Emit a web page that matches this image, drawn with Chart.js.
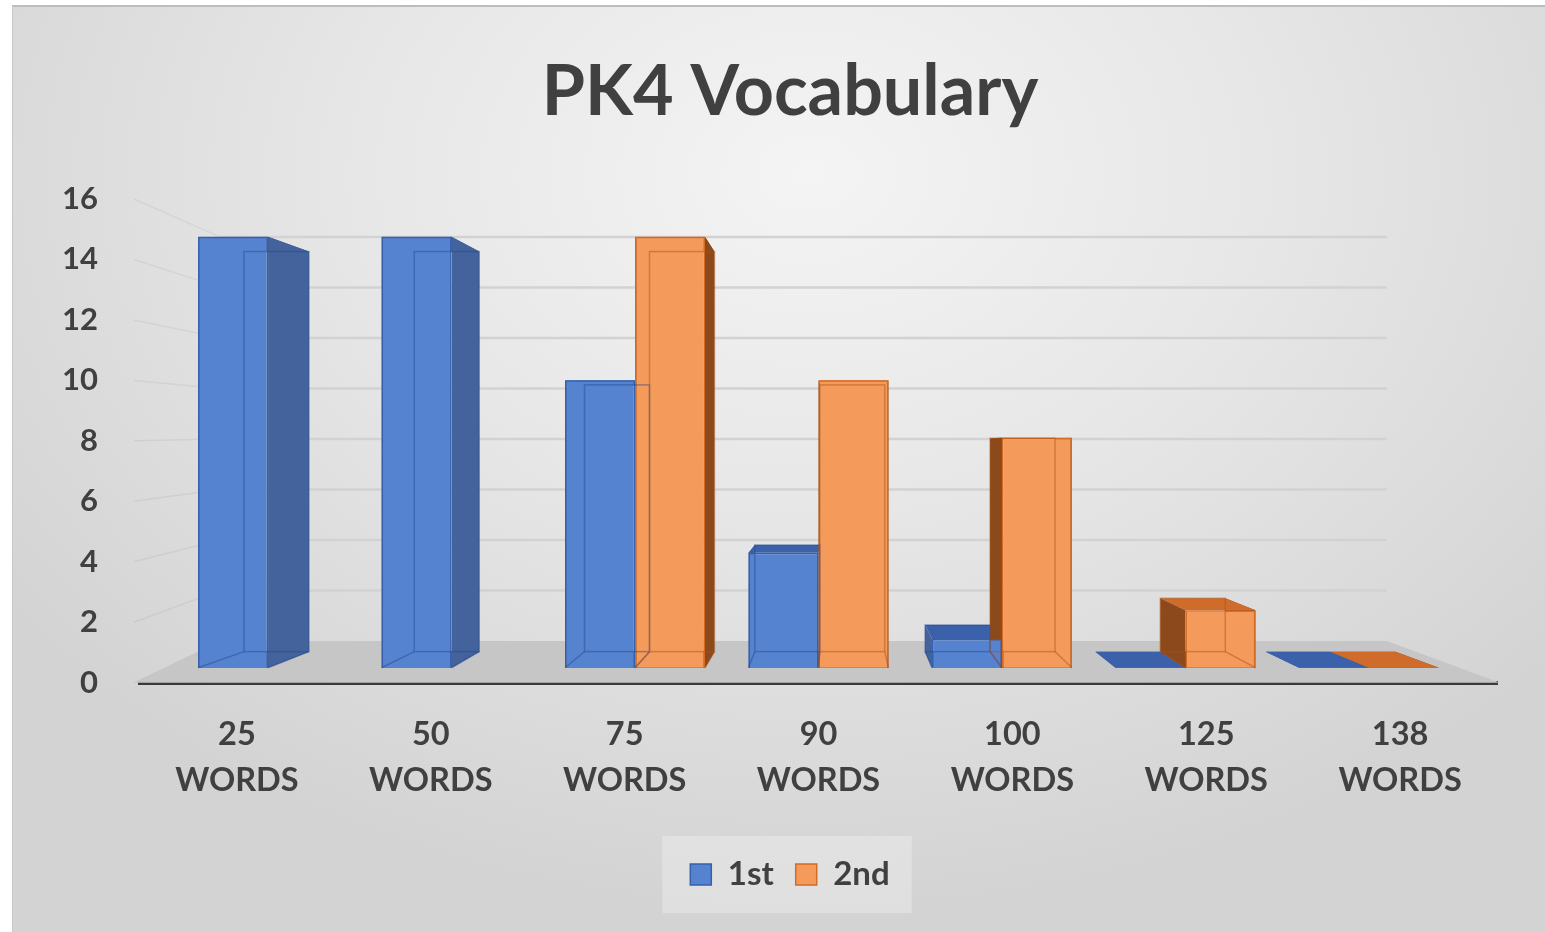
<!DOCTYPE html>
<html>
<head>
<meta charset="utf-8">
<script src="https://cdn.jsdelivr.net/npm/chart.js@4.4.0/dist/chart.umd.min.js"></script>
<style>
  html, body { margin: 0; padding: 0; background: #fff; }
  #frame {
    position: absolute; left: 12px; top: 5px; width: 1533px; height: 927px;
    background: radial-gradient(ellipse 65% 80% at 52% 18%, #f4f4f4 0%, #e7e7e7 45%, #d3d3d3 100%);
    border-top: 2px solid #bdbdbd; border-left: 1px solid #c9c9c9; box-sizing: border-box;
  }
  #wrap { position: absolute; left: 0; top: 0; width: 1545px; height: 932px; }
</style>
</head>
<body>
<div id="frame"></div>
<div id="wrap"><canvas id="myChart"></canvas></div>
<script>
const categories = [["25", "WORDS"], ["50", "WORDS"], ["75", "WORDS"], ["90", "WORDS"], ["100", "WORDS"], ["125", "WORDS"], ["138", "WORDS"]];
const firstScores = [15, 15, 10, 4, 1, 0, 0];
const secondScores = [null, null, 15, 10, 8, 2, 0];
const seriesLabels = ["1st", "2nd"];
const yTickValues = [0, 2, 4, 6, 8, 10, 12, 14, 16];

const ink = "#404040";
const FONT = "Lato, 'Open Sans', sans-serif";

// point the box sides run towards (share of chart area) and how far back they go
const vanish = { fx: 0.513, fy: 0.506, k: 0.928 };

const faceColors = [
  { side: "#44639c", top: "#3c61ab", edge: "rgba(35,70,140,0.45)" },
  { side: "#8c4a1c", top: "#d06c2b", edge: "rgba(170,80,25,0.45)" }
];

const toPoints = arr => arr.map((v, i) => ({ x: i, y: v }));

function quad(ctx, pts, fill) {
  ctx.beginPath();
  ctx.moveTo(pts[0][0], pts[0][1]);
  for (let i = 1; i < pts.length; i++) ctx.lineTo(pts[i][0], pts[i][1]);
  ctx.closePath();
  ctx.fillStyle = fill;
  ctx.fill();
}

function barBoxes(chart) {
  const a = chart.chartArea;
  const V = { x: a.left + vanish.fx * (a.right - a.left), y: a.top + vanish.fy * (a.bottom - a.top) };
  const bx = x => V.x + vanish.k * (x - V.x);
  const by = y => V.y + vanish.k * (y - V.y);
  let out = [];
  chart.data.datasets.forEach((ds, di) => {
    chart.getDatasetMeta(di).data.forEach((bar, i) => {
      if (ds.data[i].y == null) return;
      const p = bar.getProps(["x", "y", "base", "width"], true);
      const l = p.x - p.width / 2, r = p.x + p.width / 2;
      const t = Math.min(p.y, p.base), b = Math.max(p.y, p.base);
      out.push({ di, V, l, r, t, b, bl: bx(l), br: bx(r), bt: by(t), bb: by(b) });
    });
  });
  return out;
}

const scene = {
  id: "scene",
  beforeDraw(chart) {
    // soft panel behind the legend
    const hb = chart.legend && chart.legend.legendHitBoxes;
    if (!hb || !hb.length) return;
    const ctx = chart.ctx;
    const x0 = Math.min(...hb.map(h => h.left)) - 28;
    const x1 = Math.max(...hb.map(h => h.left + h.width)) + 22;
    const y0 = hb[0].top - 22, y1 = hb[0].top + hb[0].height + 22;
    ctx.save();
    ctx.fillStyle = "rgba(255,255,255,0.28)";
    ctx.fillRect(x0, y0, x1 - x0, y1 - y0);
    ctx.restore();
  },
  beforeDatasetsDraw(chart) {
    const { ctx, chartArea: a, scales } = chart;
    const yl = scales.y, yg = scales.yg;
    const backL = a.left + 80, backR = a.right - 110;
    ctx.save();
    // side wall
    ctx.strokeStyle = "rgba(0,0,0,0.05)";
    ctx.lineWidth = 1.5;
    yTickValues.forEach(v => {
      if (!v) return;
      ctx.beginPath();
      ctx.moveTo(a.left - 6, yl.getPixelForValue(v));
      ctx.lineTo(backL, yg.getPixelForValue(v));
      ctx.stroke();
    });
    // back wall
    ctx.strokeStyle = "#d2d2d2";
    ctx.lineWidth = 2.5;
    yTickValues.forEach(v => {
      if (!v) return;
      const py = yg.getPixelForValue(v);
      ctx.beginPath();
      ctx.moveTo(backL, py);
      ctx.lineTo(backR, py);
      ctx.stroke();
    });
    // floor
    quad(ctx, [
      [a.left - 7, yl.getPixelForValue(0)],
      [backL, yg.getPixelForValue(0)],
      [backR, yg.getPixelForValue(0)],
      [a.right + 3, yl.getPixelForValue(0)]
    ], "#c6c6c6");
    // box sides, hidden ones first
    barBoxes(chart).forEach(q => {
      const c = faceColors[q.di];
      const faces = [
        { vis: q.V.y < q.t, fill: c.top, pts: [[q.l, q.t], [q.r, q.t], [q.br, q.bt], [q.bl, q.bt]] },
        { vis: q.V.y > q.b, fill: c.side, pts: [[q.l, q.b], [q.r, q.b], [q.br, q.bb], [q.bl, q.bb]] },
        { vis: q.V.x < q.l, fill: c.side, pts: [[q.l, q.t], [q.l, q.b], [q.bl, q.bb], [q.bl, q.bt]] },
        { vis: q.V.x > q.r, fill: c.side, pts: [[q.r, q.t], [q.r, q.b], [q.br, q.bb], [q.br, q.bt]] }
      ];
      faces.filter(f => !f.vis).forEach(f => quad(ctx, f.pts, f.fill));
      faces.filter(f => f.vis).forEach(f => quad(ctx, f.pts, f.fill));
    });
    ctx.restore();
  },
  afterDatasetsDraw(chart) {
    // faint back edges seen through the glassy bars
    const ctx = chart.ctx;
    ctx.save();
    ctx.lineWidth = 1.5;
    barBoxes(chart).forEach(q => {
      if (q.b - q.t < 2) return;
      ctx.strokeStyle = faceColors[q.di].edge;
      ctx.strokeRect(q.bl, q.bt, q.br - q.bl, q.bb - q.bt);
      ctx.beginPath();
      ctx.moveTo(q.l, q.b); ctx.lineTo(q.bl, q.bb);
      ctx.moveTo(q.r, q.b); ctx.lineTo(q.br, q.bb);
      ctx.stroke();
    });
    ctx.restore();
  }
};

const data = {
  labels: categories,
  datasets: [
    {
      label: seriesLabels[0],
      data: toPoints(firstScores),
      backgroundColor: "#5683cf",
      borderColor: "#3361b0",
      borderWidth: 1.5,
      xAxisID: "xb",
      yAxisID: "yb"
    },
    {
      label: seriesLabels[1],
      data: toPoints(secondScores),
      backgroundColor: "#f49a5a",
      borderColor: "#d46b22",
      borderWidth: 1.5,
      xAxisID: "xb",
      yAxisID: "yb"
    }
  ]
};

const options = {
  responsive: true,
  maintainAspectRatio: false,
  animation: false,
  layout: { padding: { left: 60, right: 25, top: 0, bottom: 31 } },
  categoryPercentage: 0.763,
  barPercentage: 1.0,
  plugins: {
    legend: {
      position: "bottom",
      labels: {
        color: ink,
        boxWidth: 21,
        boxHeight: 21,
        padding: 22,
        font: { family: FONT, size: 33, weight: "bold" }
      }
    },
    title: {
      display: true,
      text: "PK4 Vocabulary",
      color: ink,
      font: { family: FONT, size: 70, weight: "bold" },
      padding: { top: 50, bottom: 65 }
    },
    tooltip: { enabled: false }
  },
  scales: {
    x: {
      type: "category",
      offset: true,
      z: 1,
      grid: { display: false },
      border: { display: true, color: "#3a3a3a", width: 4 },
      ticks: {
        color: ink,
        padding: 21,
        maxRotation: 0,
        autoSkip: false,
        font: { family: FONT, size: 32.5, weight: "bold", lineHeight: 1.42 }
      },
      afterFit: s => { s.height += 11; }
    },
    xb: {
      type: "linear",
      display: false,
      offset: false,
      min: -0.698,
      max: 6.698,
      ticks: { stepSize: 1, includeBounds: false }
    },
    y: {
      min: 0,
      max: 16,
      grid: { display: false },
      border: { display: false },
      ticks: {
        stepSize: 2,
        color: ink,
        padding: 34,
        font: { family: FONT, size: 31, weight: "bold" }
      },
      afterFit: s => { s.width = 80; }
    },
    yb: { type: "linear", display: false, min: -0.52, max: 16.31 },
    // back wall scale; sits on the right as an empty strip
    yg: {
      type: "linear",
      position: "right",
      min: -1.655,
      max: 17.5,
      grid: { display: false },
      border: { display: false },
      ticks: { display: false },
      afterFit: s => { s.width = 23; }
    }
  }
};

const ctx = document.getElementById("myChart");
new Chart(ctx, { type: "bar", data: data, options: options, plugins: [scene] });
</script>
</body>
</html>
